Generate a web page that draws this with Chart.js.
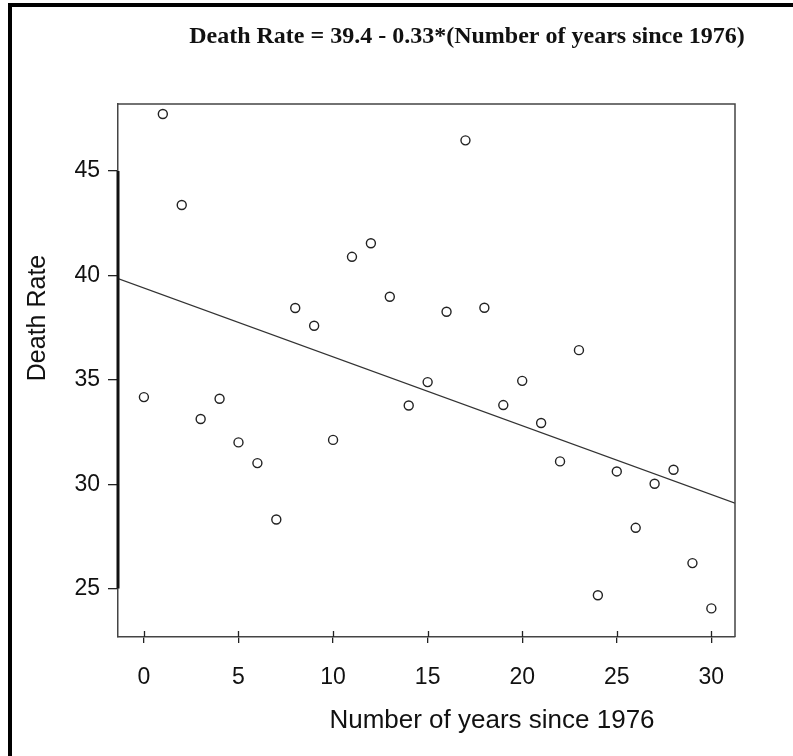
<!DOCTYPE html>
<html>
<head>
<meta charset="utf-8">
<script src="https://cdn.jsdelivr.net/npm/chart.js@4/dist/chart.umd.min.js"></script>
<style>
  body { margin: 0; background: #fff; }
</style>
</head>
<body>
<canvas id="graf" width="793" height="756"></canvas>
<script>
const ctx = document.getElementById('graf').getContext('2d');

// data
const years = [0, 1, 2, 3, 4, 5, 6, 7, 8, 9, 10, 11, 12, 13, 14, 15,
  16, 17, 18, 19, 20, 21, 22, 23, 24, 25, 26, 27, 28, 29, 30];
const deathRate = [34.17, 47.73, 43.37, 33.12, 34.09, 32.0, 31.01, 28.31,
  38.44, 37.59, 32.12, 40.89, 41.54, 38.98, 33.77, 34.89, 38.26, 46.47,
  38.45, 33.79, 34.95, 32.93, 31.09, 36.42, 24.68, 30.61, 27.91, 30.02,
  30.69, 26.22, 24.05];

// fitted line, from the equation in the title
const intercept = 39.4;
const slope = -0.33;

const xTicks = [0, 5, 10, 15, 20, 25, 30];
const yTicks = [25, 30, 35, 40, 45];
const xRange = [-1.37, 31.25];
const yRange = [22.68, 48.21];

const titleText = 'Death Rate = 39.4 - 0.33*(Number of years since 1976)';
const xTitle = 'Number of years since 1976';
const yTitle = 'Death Rate';

const points = years.map((x, i) => ({ x, y: deathRate[i] }));
const fitLine = xRange.map((x) => ({ x, y: intercept + slope * x }));

const extras = {
  id: 'extras',
  afterDraw(chart) {
    const { ctx, chartArea: a, scales } = chart;
    const x = scales.x, y = scales.y;
    ctx.save();

    // top and right sides of the plot box
    ctx.strokeStyle = '#444';
    ctx.lineWidth = 1.5;
    ctx.beginPath();
    ctx.moveTo(a.left, a.top);
    ctx.lineTo(a.right, a.top);
    ctx.lineTo(a.right, a.bottom);
    ctx.stroke();

    // heavy part of the y axis between the end ticks
    ctx.strokeStyle = '#111';
    ctx.lineWidth = 3;
    ctx.beginPath();
    ctx.moveTo(a.left, y.getPixelForValue(yTicks[yTicks.length - 1]));
    ctx.lineTo(a.left, y.getPixelForValue(yTicks[0]));
    ctx.stroke();

    // x ticks also poke into the plot
    ctx.strokeStyle = '#222';
    ctx.lineWidth = 1.3;
    ctx.beginPath();
    xTicks.forEach((v) => {
      const px = Math.round(x.getPixelForValue(v)) + 0.5;
      ctx.moveTo(px, a.bottom - 6);
      ctx.lineTo(px, a.bottom);
    });
    ctx.stroke();

    // titles
    ctx.fillStyle = '#111';
    ctx.textAlign = 'center';
    ctx.textBaseline = 'middle';
    ctx.font = 'bold 24px "Liberation Serif"';
    ctx.fillText(titleText, a.left + 349, 37);

    ctx.font = '26px "Liberation Sans"';
    ctx.fillText(xTitle, a.left + 374, a.bottom + 84);

    ctx.font = '25px "Liberation Sans"';
    ctx.save();
    ctx.translate(38, a.top + 214);
    ctx.rotate(-Math.PI / 2);
    ctx.fillText(yTitle, 0, 0);
    ctx.restore();

    // outer frame
    ctx.strokeStyle = '#000';
    ctx.lineWidth = 4;
    ctx.beginPath();
    ctx.moveTo(10, 756);
    ctx.lineTo(10, 5);
    ctx.lineTo(793, 5);
    ctx.stroke();

    ctx.restore();
  },
};

const config = {
  type: 'scatter',
  data: {
    datasets: [
      {
        data: points,
        pointStyle: 'circle',
        radius: 4.5,
        borderWidth: 1.4,
        borderColor: '#222',
        backgroundColor: '#fff',
      },
      {
        type: 'line',
        data: fitLine,
        borderColor: '#333',
        borderWidth: 1.2,
        pointRadius: 0,
        fill: false,
      },
    ],
  },
  options: {
    responsive: false,
    animation: false,
    layout: {
      padding: { left: 28, top: 104, right: 58, bottom: 69 },
    },
    plugins: {
      legend: { display: false },
      tooltip: { enabled: false },
    },
    scales: {
      x: {
        type: 'linear',
        min: xRange[0],
        max: xRange[1],
        afterBuildTicks: (s) => {
          s.ticks = xTicks.map((value) => ({ value }));
        },
        afterFit: (s) => {
          s.height = 50;
        },
        grid: {
          drawOnChartArea: false,
          tickLength: 6,
          color: '#222',
          lineWidth: 1.3,
        },
        border: { display: true, color: '#444', width: 1.5 },
        ticks: {
          padding: 21,
          color: '#111',
          font: { family: 'Liberation Sans', size: 23 },
        },
      },
      y: {
        min: yRange[0],
        max: yRange[1],
        afterBuildTicks: (s) => {
          s.ticks = yTicks.map((value) => ({ value }));
        },
        afterFit: (s) => {
          s.width = 90;
        },
        grid: {
          drawOnChartArea: false,
          tickLength: 10,
          color: '#222',
          lineWidth: 1.3,
        },
        border: { display: true, color: '#444', width: 1.5 },
        ticks: {
          padding: 8,
          color: '#111',
          font: { family: 'Liberation Sans', size: 23 },
        },
      },
    },
  },
  plugins: [extras],
};

const myChart = new Chart(ctx, config);
</script>
</body>
</html>
